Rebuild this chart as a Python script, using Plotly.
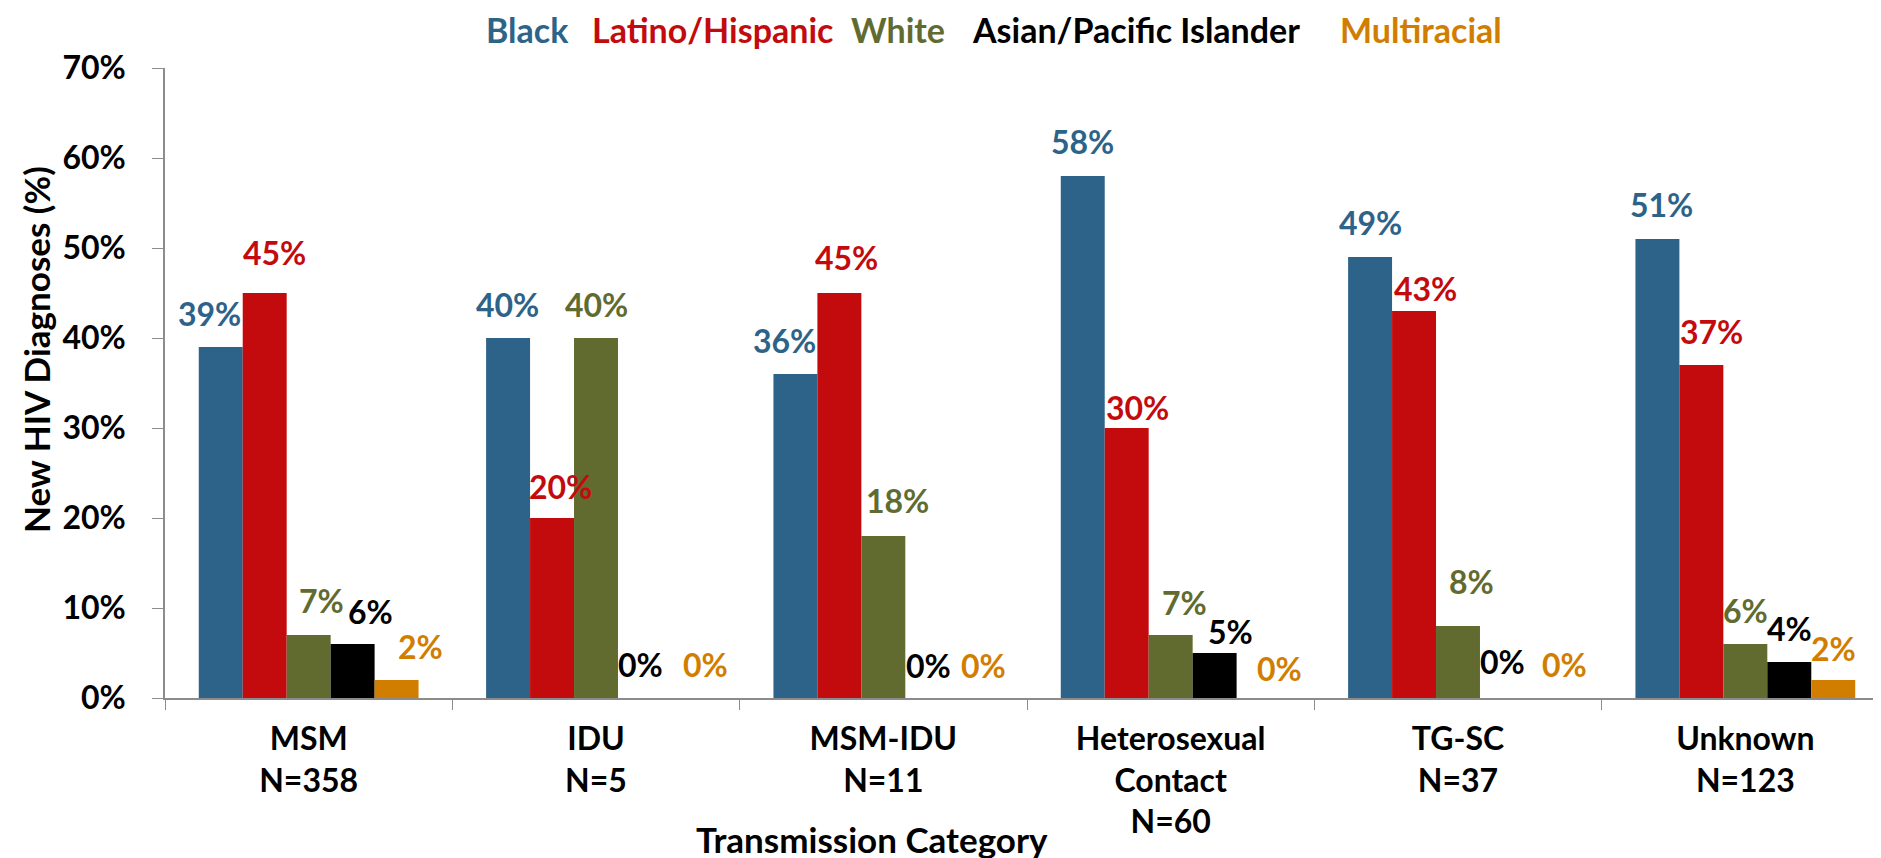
import plotly.graph_objects as go

categories = ["MSM", "IDU", "MSM-IDU", "Heterosexual<br>Contact", "TG-SC", "Unknown"]
n_counts = [358, 5, 11, 60, 37, 123]
series_names = ["Black", "Latino/Hispanic", "White", "Asian/Pacific Islander", "Multiracial"]
black = [39, 40, 36, 58, 49, 51]
latino = [45, 20, 45, 30, 43, 37]
white = [7, 40, 18, 7, 8, 6]
asian = [6, 0, 0, 5, 0, 4]
multiracial = [2, 0, 0, 0, 0, 2]
colors = ["#2E6389", "#C30B0E", "#616B30", "#000000", "#D17E00"]
y_ticks = [0, 10, 20, 30, 40, 50, 60, 70]

# label nudges (pixels) as placed in the original: horizontal shift and height above bar top
label_dx = [
    [-11, -1, -11, 0, 0, 4],
    [10, 8, 7, 11, 11, 10],
    [13, 0, 14, 14, 13, 0],
    [18, 1, 1, 16, 1, 0],
    [24, 22, 12, 21, 19, 0],
]
label_dy = [
    [34, 34, 34, 35, 35, 35],
    [41, 32, 36, 21, 23, 34],
    [35, 34, 36, 33, 45, 34],
    [33, 34, 33, 22, 37, 34],
    [34, 34, 33, 30, 34, 32],
]

series = [black, latino, white, asian, multiracial]
xlabels = [f"{c}<br>N={n}" for c, n in zip(categories, n_counts)]

FONT = "Lato, 'Open Sans', sans-serif"
FS = 32
FS_BIG = 35
W, H = 1881, 858
L, R, T, B = 157, 0, 60, 168
bargap = 0.235
pw = W - L - R
ph = H - T - B

fig = go.Figure()
for name, vals, col in zip(series_names, series, colors):
    fig.add_trace(go.Bar(
        name=name, x=xlabels, y=[v / 100 for v in vals],
        marker=dict(color=col, line=dict(width=0)),
        showlegend=False, hoverinfo="skip",
    ))

annotations = []
nser = len(series)
bw = (1 - bargap) / nser
for j, (vals, col) in enumerate(zip(series, colors)):
    for i, v in enumerate(vals):
        annotations.append(dict(
            x=i + (j - (nser - 1) / 2) * bw, y=v / 100, xref="x", yref="y",
            text=f"<b>{v}%</b>", showarrow=False, xanchor="center", yanchor="middle",
            xshift=label_dx[j][i], yshift=label_dy[j][i],
            font=dict(family=FONT, size=FS, color=col),
        ))

# legend as coloured text across the top
legend_px = [519, 704, 890, 1128, 1413]
for name, col, px in zip(series_names, colors, legend_px):
    annotations.append(dict(
        x=(px - L) / pw, y=1 + (T - 22) / ph, xref="paper", yref="paper",
        text=f"<b>{name}</b>", showarrow=False, xanchor="center", yanchor="middle",
        font=dict(family=FONT, size=34, color=col),
    ))

# axis titles
annotations.append(dict(
    x=(864 - L) / pw, y=(T + ph - 831) / ph, xref="paper", yref="paper",
    text="<b>Transmission Category</b>", showarrow=False, xanchor="center", yanchor="middle",
    font=dict(family=FONT, size=FS_BIG, color="black"),
))
annotations.append(dict(
    x=(28 - L) / pw, y=(T + ph - 342) / ph, xref="paper", yref="paper",
    text="<b>New HIV Diagnoses (%)</b>", showarrow=False, xanchor="center", yanchor="middle",
    textangle=-90, font=dict(family=FONT, size=FS_BIG, color="black"),
))

fig.update_layout(
    width=W, height=H,
    margin=dict(l=L, r=R, t=T, b=B, pad=0),
    barmode="group", bargap=bargap, bargroupgap=0,
    plot_bgcolor="white", paper_bgcolor="white",
    font=dict(family=FONT, size=FS, color="black"),
    annotations=annotations,
    xaxis=dict(
        type="category", showline=True, linecolor="#8C8C8C", linewidth=1.5,
        ticks="outside", tickson="boundaries", ticklen=10, tickcolor="#8C8C8C",
        tickvals=xlabels, ticktext=[f"<b>{x}</b>" for x in xlabels],
        tickfont=dict(family=FONT, size=FS, color="black"),
        ticklabelstandoff=12,
        showgrid=False, zeroline=False,
    ),
    yaxis=dict(
        range=[0, 0.7], tickvals=[t / 100 for t in y_ticks],
        ticktext=[f"<b>{t}%</b>" for t in y_ticks],
        showline=True, linecolor="#8C8C8C", linewidth=1.5,
        ticks="outside", ticklen=11, tickcolor="#8C8C8C",
        tickfont=dict(family=FONT, size=FS, color="black"),
        ticklabelstandoff=20,
        showgrid=False, zeroline=False,
    ),
)

fig.write_html("out.html")
